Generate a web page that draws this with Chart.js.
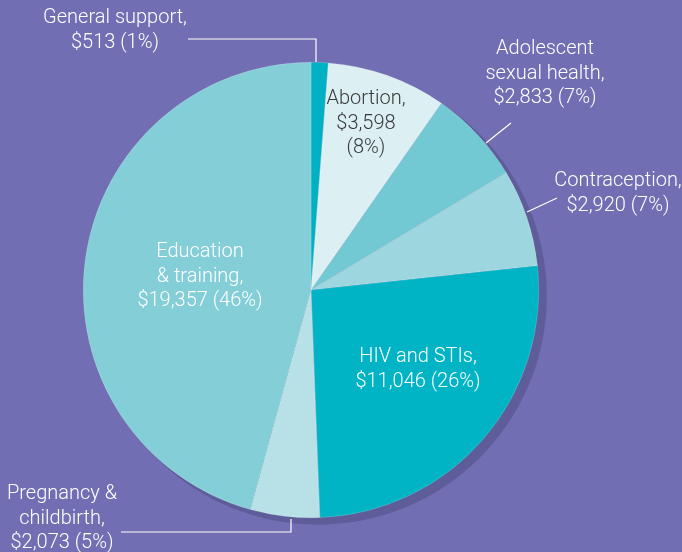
<!DOCTYPE html>
<html>
<head>
<meta charset="utf-8">
<script src="https://cdn.jsdelivr.net/npm/chart.js@4"></script>
<style>
  html, body { margin: 0; padding: 0; background: #716eb3; }
  #wrap { width: 682px; height: 552px; }
</style>
</head>
<body>
<div id="wrap"><canvas id="chart" width="682" height="552"></canvas></div>
<script>
const categories = ["General support", "Abortion", "Adolescent sexual health", "Contraception", "HIV and STIs", "Pregnancy & childbirth", "Education & training"];
const amounts = [513, 3598, 2833, 2920, 11046, 2073, 19357];
const percents = ["1%", "8%", "7%", "7%", "26%", "5%", "46%"];
const sliceColors = ["#00b1c4", "#dcf0f3", "#72c8d3", "#9dd6df", "#00b4c6", "#b8e1e7", "#84cfd7"];

// label text lines, placed per slice
const labelLines = [
  ["General support,", "$513 (1%)"],
  ["Abortion,", "$3,598", "(8%)"],
  ["Adolescent", "sexual health,", "$2,833 (7%)"],
  ["Contraception,", "$2,920 (7%)"],
  ["HIV and STIs,", "$11,046 (26%)"],
  ["Pregnancy &", "childbirth,", "$2,073 (5%)"],
  ["Education", "& training,", "$19,357 (46%)"]
];

// label anchors (text centre, first line) and leader lines
const labelPlace = [
  { x: 115, y: 18, color: "#fff", leader: [[188, 39], [316, 39], [316, 62]] },
  { x: 366, y: 99, color: "#3a3a3a" },
  { x: 545, y: 49, color: "#fff", leader: [[511, 123], [486, 143]] },
  { x: 618, y: 181, color: "#fff", leader: [[557, 198], [527, 212]] },
  { x: 418, y: 357, color: "#fff" },
  { x: 62, y: 494, color: "#fff", leader: [[121, 532], [291, 532], [291, 519]] },
  { x: 200, y: 252, color: "#fff" }
];

const shadowPlugin = {
  id: "shadow",
  beforeDatasetsDraw(chart) {
    const arc = chart.getDatasetMeta(0).data[0];
    const ctx = chart.ctx;
    ctx.save();
    ctx.fillStyle = "#5e5c99";
    ctx.beginPath();
    ctx.arc(arc.x + 7, arc.y + 6, arc.outerRadius + 1, 0, Math.PI * 2);
    ctx.fill();
    ctx.restore();
  }
};

const labelPlugin = {
  id: "sliceLabels",
  afterDatasetsDraw(chart) {
    const ctx = chart.ctx;
    ctx.save();
    ctx.font = "300 20px Roboto";
    ctx.textAlign = "center";
    ctx.textBaseline = "middle";
    labelLines.forEach((lines, i) => {
      const p = labelPlace[i];
      ctx.fillStyle = p.color;
      lines.forEach((t, j) => ctx.fillText(t, p.x, p.y + j * 24.5));
      if (p.leader) {
        ctx.strokeStyle = "#fff";
        ctx.lineWidth = 1.2;
        ctx.beginPath();
        p.leader.forEach((pt, k) => k ? ctx.lineTo(pt[0], pt[1]) : ctx.moveTo(pt[0], pt[1]));
        ctx.stroke();
      }
    });
    ctx.restore();
  }
};

new Chart(document.getElementById("chart"), {
  type: "pie",
  data: {
    labels: categories,
    datasets: [{
      data: amounts,
      backgroundColor: sliceColors,
      borderColor: "rgba(255,255,255,0.35)",
      borderWidth: 0.5
    }]
  },
  options: {
    responsive: false,
    animation: false,
    layout: { padding: { left: 83, right: 143, top: 62, bottom: 34 } },
    plugins: {
      legend: { display: false },
      tooltip: { enabled: false }
    }
  },
  plugins: [shadowPlugin, labelPlugin]
});
</script>
</body>
</html>
